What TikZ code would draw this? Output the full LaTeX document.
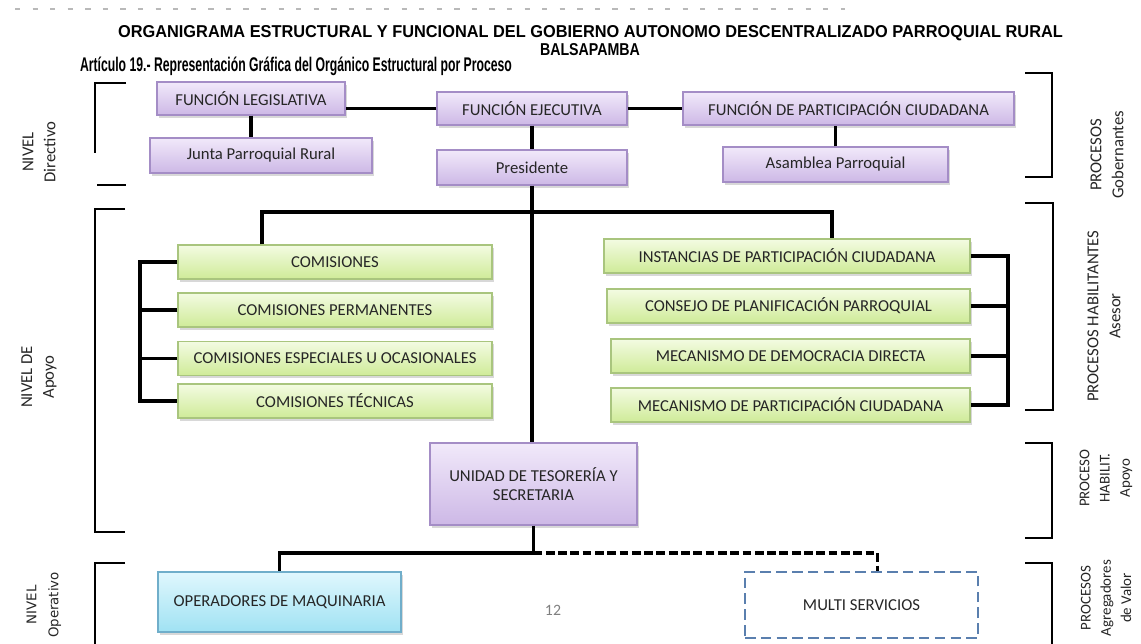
\documentclass[tikz,border=0pt]{standalone}
\usepackage{fontspec}
\setmainfont{Carlito}
\newfontfamily\arialfont{Liberation Sans}
\newfontfamily\dejafont{DejaVu Sans}
\usetikzlibrary{shadows}

\newlength\px
\setlength\px{0.02cm}

\definecolor{lilaTop}{HTML}{F1E9FA}
\definecolor{lilaBot}{HTML}{CDB8E6}
\definecolor{lilaLine}{HTML}{A48DC6}
\definecolor{verdeTop}{HTML}{F3FBE2}
\definecolor{verdeBot}{HTML}{CFEB98}
\definecolor{verdeLine}{HTML}{A9C57E}
\definecolor{celesteTop}{HTML}{E0F7FD}
\definecolor{celesteBot}{HTML}{A0E2F3}
\definecolor{celesteLine}{HTML}{70AECA}
\definecolor{azulDash}{HTML}{5A7FAE}
\definecolor{texto}{HTML}{262626}

\tikzset{
  caja/.style={draw, line width=0.6pt, text=texto, inner sep=2pt, align=center,
    font=\fontsize{9.5}{11}\selectfont,
    drop shadow={shadow xshift=1.2pt, shadow yshift=-1.5pt, opacity=0.3}},
  lila/.style={caja, draw=lilaLine, top color=lilaTop, bottom color=lilaBot},
  verde/.style={caja, draw=verdeLine, top color=verdeTop, bottom color=verdeBot},
  celeste/.style={caja, draw=celesteLine, top color=celesteTop, bottom color=celesteBot},
  punteada/.style={draw=azulDash, line width=1.3pt, dash pattern=on 6pt off 3pt,
    fill=white, text=texto, align=center, font=\fontsize{9.5}{11}\selectfont},
  enlace/.style={line width=1.8pt},
  enlacedash/.style={line width=1.8pt, dash pattern=on 5pt off 2pt},
  llave/.style={line width=1.1pt},
  lado/.style={rotate=90, align=center, text=texto, font=\fontsize{9.5}{12.5}\selectfont},
}

\begin{document}
\begin{tikzpicture}[x=0.02cm, y=-0.02cm]
	%%%%% MARCO %%%%%
	\fill[white] (0,0) rectangle (1141,643);
	\clip (0,0) rectangle (1141,643);
	\draw[gray!55, dash pattern=on 3pt off 7pt, line width=0.6pt] (15,9) -- (845,9);
	
	%%%%% TITULOS %%%%%
	\node (titulo) at (590.5,33) {\resizebox{18.9cm}{0.24cm}{\arialfont\bfseries ORGANIGRAMA ESTRUCTURAL Y FUNCIONAL DEL GOBIERNO AUTONOMO DESCENTRALIZADO PARROQUIAL RURAL}};
	\node (titulob) at (590,49.5) {\resizebox{2cm}{0.24cm}{\arialfont\bfseries BALSAPAMBA}};
	\node (articulo) at (296,66) {\resizebox{8.64cm}{0.29cm}{\arialfont\bfseries Artículo 19.- Representación Gráfica del Orgánico Estructural por Proceso}};
	
	%%%%% NIVEL DIRECTIVO %%%%%
	\node[lila, minimum width=188\px, minimum height=33\px] (leg) at (251,98.5) {FUNCIÓN LEGISLATIVA};
	\node[lila, minimum width=222\px, minimum height=35\px] (junta) at (261,155.5) {Junta Parroquial Rural};
	\node[lila, minimum width=190\px, minimum height=33\px] (ejec) at (532,108.5) {FUNCIÓN EJECUTIVA};
	\node[lila, minimum width=190\px, minimum height=35\px] (pres) at (532,167.5) {Presidente};
	\node[lila, minimum width=331\px, minimum height=33\px] (fpc) at (848.5,108.5) {FUNCIÓN DE PARTICIPACIÓN CIUDADANA};
	\node[lila, minimum width=225\px, minimum height=35\px] (asam) at (835.5,164.5) {Asamblea Parroquial};
	
	\draw[enlace] (ejec.west) -- (ejec.west -| leg.east);
	\draw[enlace] (ejec.east) -- (ejec.east -| fpc.west);
	\draw[enlace] (leg.south) -- (leg.south |- junta.north);
	\draw[enlace] (ejec.south) -- (pres.north);
	\draw[enlace] (asam.north) -- (asam.north |- fpc.south);
	
	%%%%% NIVEL DE APOYO %%%%%
	\node[verde, minimum width=314\px, minimum height=34\px] (com1) at (335,262) {COMISIONES};
	\node[verde, minimum width=314\px, minimum height=34\px] (com2) at (335,310) {COMISIONES PERMANENTES};
	\node[verde, minimum width=314\px, minimum height=34\px] (com3) at (335,358.5) {COMISIONES ESPECIALES U OCASIONALES};
	\node[verde, minimum width=314\px, minimum height=34\px] (com4) at (335,401) {COMISIONES TÉCNICAS};
	
	\node[verde, minimum width=366\px, minimum height=34\px] (ins1) at (787,256) {INSTANCIAS DE PARTICIPACIÓN CIUDADANA};
	\node[verde, minimum width=363\px, minimum height=34\px] (ins2) at (788.5,306) {CONSEJO DE PLANIFICACIÓN PARROQUIAL};
	\node[verde, minimum width=359\px, minimum height=34\px] (ins3) at (790.5,356) {MECANISMO DE DEMOCRACIA DIRECTA};
	\node[verde, minimum width=359\px, minimum height=34\px] (ins4) at (790.5,405) {MECANISMO DE PARTICIPACIÓN CIUDADANA};
	
	\node[lila, minimum width=207\px, minimum height=82\px] (unidad) at (533.5,484) {UNIDAD DE TESORERÍA Y\\SECRETARIA};
	
	\coordinate (barraL) at (262,212);
	\coordinate (barraR) at (832,212);
	\coordinate (busL) at (140,0);
	\coordinate (busR) at (1008,0);
	
	\draw[enlace] (pres.south) -- (pres.south |- unidad.north);
	\draw[enlace] (com1.north -| barraL) -- (barraL) -- (barraR) -- (barraR |- ins1.north);
	
	\draw[enlace] (com1.west) -- (com1.west -| busL) -- (com4.west -| busL) -- (com4.west);
	\draw[enlace] (com2.west) -- (com2.west -| busL);
	\draw[enlace] (com3.west) -- (com3.west -| busL);
	
	\draw[enlace] (ins1.east) -- (ins1.east -| busR) -- (ins4.east -| busR) -- (ins4.east);
	\draw[enlace] (ins2.east) -- (ins2.east -| busR);
	\draw[enlace] (ins3.east) -- (ins3.east -| busR);
	
	%%%%% NIVEL OPERATIVO %%%%%
	\node[celeste, minimum width=243\px, minimum height=60\px] (oper) at (279.5,602) {OPERADORES DE MAQUINARIA};
	\node[punteada, minimum width=233\px, minimum height=66\px] (multi) at (861.5,605) {MULTI SERVICIOS};
	\node[text=gray, font=\fontsize{9}{10}\selectfont] (pagina) at (553,610) {12};
	
	\coordinate (cruce) at (533.5,553);
	\draw[enlace] (unidad.south) -- (cruce) -| (oper.north);
	\draw[enlacedash] (cruce) -| ([xshift=16\px]multi.north);
	
	%%%%% LLAVES %%%%%
	\draw[llave] (126,83) -- (95,83) -- (95,153);
	\draw[llave] (97,185) -- (126,185);
	\draw[llave] (125,209) -- (95,209) -- (95,532) -- (125,532);
	\draw[llave] (125,563) -- (95,563) -- (95,650);
	
	\draw[llave] (1025,73) -- (1052,73) -- (1052,177) -- (1025,177);
	\draw[llave] (1025,203) -- (1053,203) -- (1053,410) -- (1025,410);
	\draw[llave] (1025,443) -- (1052,443) -- (1052,538) -- (1025,538);
	\draw[llave] (1025,563) -- (1052,563) -- (1052,650);
	
	%%%%% ROTULOS %%%%%
	\node[lado] (ndir) at (39,152) {NIVEL\\Directivo};
	\node[lado] (napo) at (39,377) {NIVEL DE\\Apoyo};
	\node[lado, font=\dejafont\fontsize{7.6}{12.5}\selectfont] (nope) at (44,605) {NIVEL\\Operativo};
	\node[lado] (pgob) at (1107,155) {PROCESOS\\Gobernantes};
	\node[lado] (pase) at (1104,316) {PROCESOS HABILITANTES\\Asesor};
	\node[lado, font=\fontsize{8.5}{11.5}\selectfont] (papo) at (1106,478) {PROCESO\\HABILIT.\\Apoyo};
	\node[lado, font=\fontsize{8.5}{11.5}\selectfont] (pagr) at (1106,598) {PROCESOS\\Agregadores\\de Valor};
\end{tikzpicture}
\end{document}
